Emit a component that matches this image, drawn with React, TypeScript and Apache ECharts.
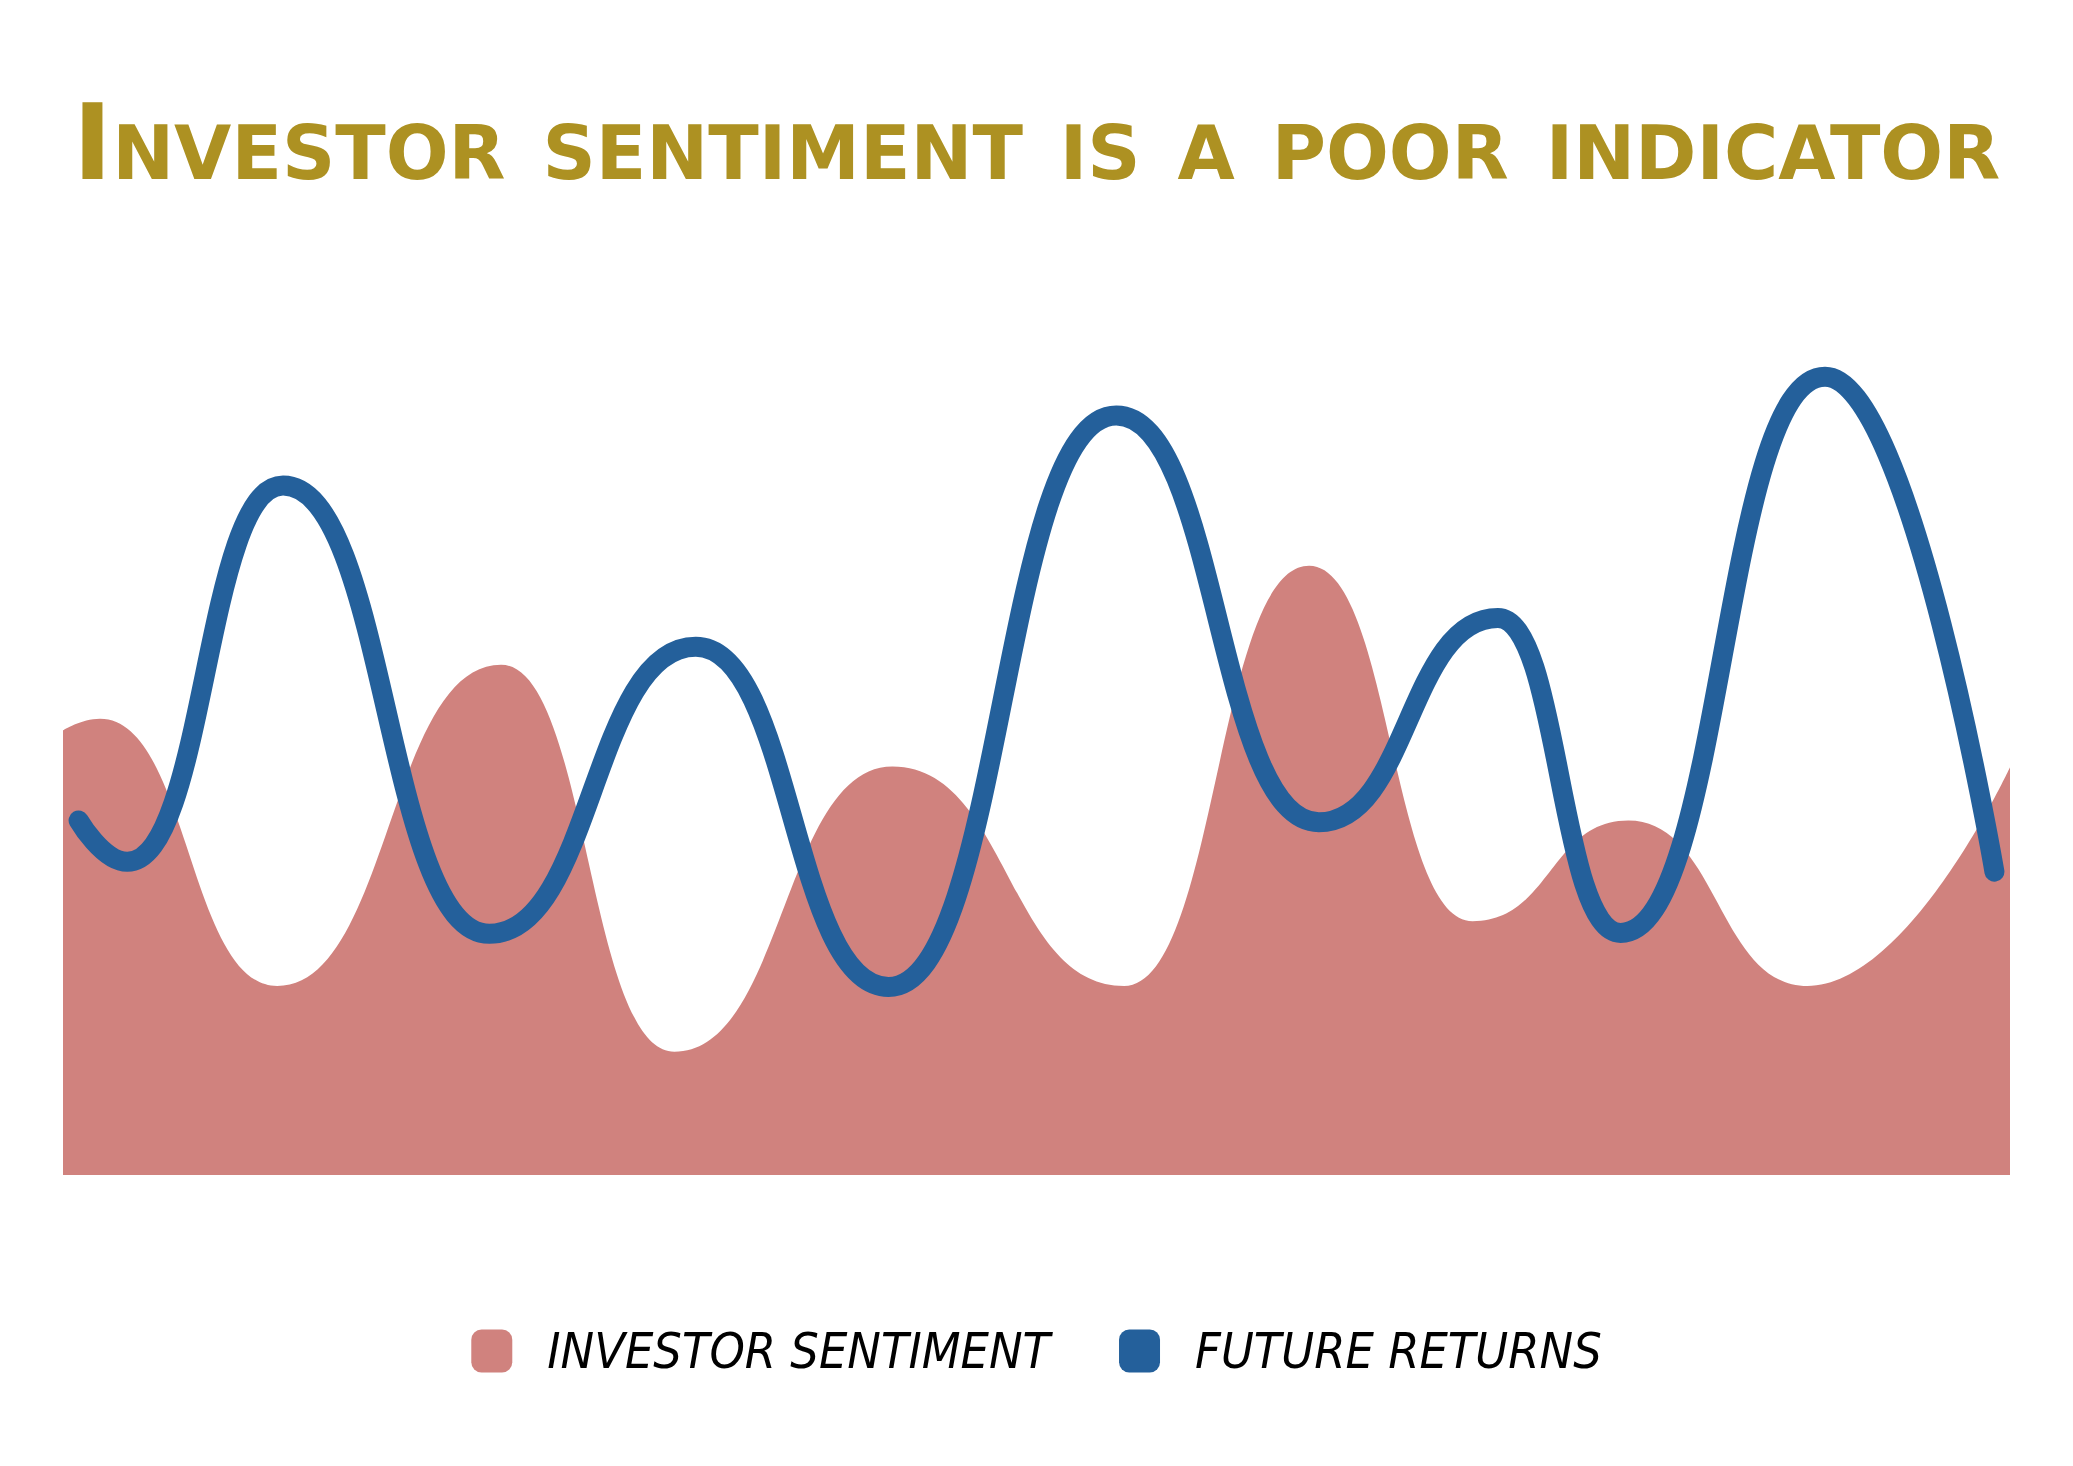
import React, { useEffect, useRef } from "react";
import * as echarts from "echarts";

const TITLE = "Investor sentiment is a poor indicator";
const SERIES_NAMES = ["INVESTOR SENTIMENT", "FUTURE RETURNS"];

// x positions (0..100 along the time span) and values (0..100)
const sentimentX = [0, 1.9, 11.0, 22.5, 31.4, 42.6, 54.5, 64.0, 72.4, 80.4, 89.6, 100];
const sentimentY = [49.4, 50.7, 21.0, 56.7, 13.7, 45.4, 21.0, 67.7, 28.2, 39.4, 21.0, 45.3];
const returnsX = [0.8, 3.3, 11.3, 21.9, 32.5, 42.4, 54.1, 64.5, 73.7, 80.0, 90.5, 99.2];
const returnsY = [39.4, 34.8, 76.6, 26.8, 58.7, 20.9, 84.4, 39.2, 61.9, 26.9, 88.7, 33.7];

const COLORS = ["#D0827E", "#24609B"];

export default function App() {
  const ref = useRef<HTMLDivElement>(null);
  useEffect(() => {
    if (!ref.current) return;
    const chart = echarts.init(ref.current, undefined, { renderer: "svg" });
    const sentimentData = sentimentX.map((x, i) => [x, sentimentY[i]]);
    const returnsData = returnsX.map((x, i) => [x, returnsY[i]]);
    chart.setOption({
      animation: false,
      backgroundColor: "#ffffff",
      color: COLORS,
      graphic: [
        {
          type: "text",
          left: "center",
          top: 89,
          style: {
            text: TITLE,
            font: 'small-caps bold 106px "DejaVu Sans"',
            fill: "#AD9122",
          },
        },
      ],
      legend: {
        left: "center",
        top: 1321,
        itemWidth: 41,
        itemHeight: 43,
        itemGap: 69,
        icon: "roundRect",
        data: SERIES_NAMES,
        textStyle: {
          fontFamily: '"Liberation Sans Narrow", "DejaVu Sans Condensed", sans-serif',
          fontStyle: "italic",
          fontSize: 50,
          color: "#000000",
          padding: [0, 0, 0, 30],
        },
      },
      grid: { left: 63, right: 63, top: 275, bottom: 291, containLabel: false },
      xAxis: {
        type: "value",
        min: 0,
        max: 100,
        show: false,
      },
      yAxis: {
        type: "value",
        min: 0,
        max: 100,
        show: false,
      },
      series: [
        {
          name: SERIES_NAMES[0],
          type: "line",
          data: sentimentData,
          smooth: 0.5,
          smoothMonotone: "x",
          showSymbol: false,
          symbol: "none",
          lineStyle: { width: 0, color: COLORS[0] },
          itemStyle: { color: COLORS[0] },
          areaStyle: { color: COLORS[0], opacity: 1 },
          z: 1,
        },
        {
          name: SERIES_NAMES[1],
          type: "line",
          data: returnsData,
          smooth: 0.5,
          smoothMonotone: "x",
          showSymbol: false,
          symbol: "none",
          lineStyle: { width: 20, color: COLORS[1], cap: "round", join: "round" },
          itemStyle: { color: COLORS[1] },
          z: 2,
        },
      ],
    });
    return () => chart.dispose();
  }, []);
  return (
    <div
      ref={ref}
      style={{ position: "absolute", left: 0, top: 0, width: 2073, height: 1466 }}
    />
  );
}
